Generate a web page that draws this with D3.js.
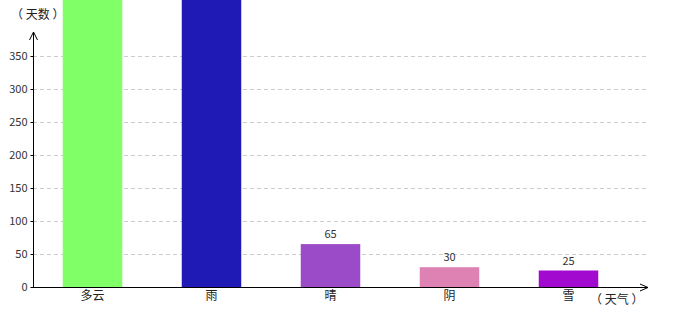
<!DOCTYPE html>
<html><head><meta charset="utf-8">
<script src="https://cdn.jsdelivr.net/npm/d3@7"></script>
<style>body{margin:0;background:#fff}svg{display:block}text{font-family:"Noto Sans CJK SC","DejaVu Sans",sans-serif}</style>
</head><body><svg id="c" width="680" height="320"></svg>
<script>
const categories = ["多云","雨","晴","阴","雪"];
const values = [500, 470, 65, 30, 25];
const colors = ["#80FF66","#1F1AB5","#9B4AC8","#DE82B4","#A30AD0"];
const yTicks = [0,50,100,150,200,250,300,350];

const svg = d3.select("#c");
const x = d3.scaleBand().domain(categories).range([33, 628]).paddingInner(0.5).paddingOuter(0.25);
const y = d3.scaleLinear().domain([0, 350]).range([287, 56]);

// grid
svg.append("g").selectAll("line").data(yTicks.filter(d=>d>0)).join("line")
  .attr("x1",33).attr("x2",648).attr("y1",d=>y(d)+0.5).attr("y2",d=>y(d)+0.5)
  .attr("stroke","#ccc").attr("stroke-dasharray","4,3");

// bars
svg.append("g").selectAll("rect").data(categories).join("rect")
  .attr("x",d=>x(d)).attr("width",x.bandwidth())
  .attr("y",(d,i)=>y(values[i])).attr("height",(d,i)=>y(0)-y(values[i]))
  .attr("fill",(d,i)=>colors[i]);

// value labels (only those that fall inside the visible area, as in the reference)
const labelled = categories.map((c,i)=>({c, v:values[i]})).filter(d=>y(d.v)-16 > 0);
svg.append("g").selectAll("text").data(labelled).join("text")
  .attr("x",d=>x(d.c)+x.bandwidth()/2).attr("y",d=>y(d.v)-6)
  .attr("text-anchor","middle").attr("font-size",11).attr("fill","#333")
  .text(d=>d.v);

// y axis
const ya = d3.axisLeft(y).tickValues(yTicks).tickSize(3).tickPadding(3);
const gy = svg.append("g").attr("transform","translate(33.5,0)").call(ya);
gy.select(".domain").remove();
gy.selectAll("text").attr("font-size",11).attr("fill","#333");
gy.selectAll("line").attr("stroke","#000");
svg.append("line").attr("x1",33.5).attr("x2",33.5).attr("y1",287).attr("y2",32).attr("stroke","#000");
svg.append("path").attr("d","M29.5,40 L33.5,32 L37.5,40").attr("fill","none").attr("stroke","#000");

// x axis
const xa = d3.axisBottom(x).tickSize(0).tickPadding(4);
const gx = svg.append("g").attr("transform","translate(0,287.5)").call(xa);
gx.select(".domain").remove();
gx.selectAll("text").attr("font-size",12).attr("fill","#222");
svg.append("line").attr("x1",33).attr("x2",648).attr("y1",287.5).attr("y2",287.5).attr("stroke","#000");
svg.append("path").attr("d","M640,284 L648,287.5 L640,291").attr("fill","none").attr("stroke","#000");

svg.append("text").attr("x",11).attr("y",19).attr("font-size",12).attr("fill","#222").text("（ 天数 ）");
svg.append("text").attr("x",590).attr("y",304).attr("font-size",12).attr("fill","#222").text("（ 天气 ）");
</script></body></html>
